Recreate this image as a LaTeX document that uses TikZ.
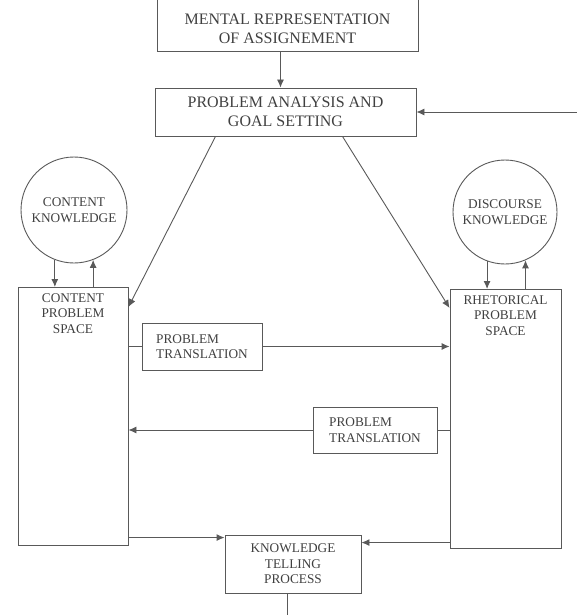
\documentclass[tikz,border=0pt]{standalone}
\usepackage{fontspec}
\setmainfont{Liberation Serif}
\usetikzlibrary{arrows.meta}

\begin{document}
\begin{tikzpicture}[x=1pt,y=-1pt, line width=0.9pt, black!65,
  >={Latex[length=8pt,width=7pt]},
  box/.style={draw=black!65, inner sep=0pt, align=center, text=black!75},
  big/.style={font=\fontsize{16}{18.5}\selectfont},
  small/.style={font=\fontsize{13.3}{15.5}\selectfont},
  lbl/.style={inner sep=0pt, align=center, text=black!75}]
\useasboundingbox (0,0) rectangle (577,615);
\clip (0,0) rectangle (577,615);

\node[box, minimum width=261, minimum height=80, anchor=south] (mental) at (287.5,52) {};
\node[lbl, big] (mentaltext) at (287.5,29) {MENTAL REPRESENTATION\\OF ASSIGNEMENT};
\node[box, big, minimum width=261, minimum height=48] (pags) at (285.5,112) {PROBLEM ANALYSIS AND\\GOAL SETTING};

\node[box, small, circle, minimum size=106] (ck) at (74,210) {CONTENT\\KNOWLEDGE};
\node[box, small, circle, minimum size=104] (dk) at (505,212) {DISCOURSE\\KNOWLEDGE};

\node[box, minimum width=110, minimum height=258, anchor=north] (cps) at (73,287) {};
\node[lbl, small, anchor=north] (cpstext) at (73,293) {CONTENT\\PROBLEM\\SPACE};
\node[box, minimum width=111, minimum height=259, anchor=north] (rps) at (505.5,289) {};
\node[lbl, small, anchor=north] (rpstext) at (505.5,295) {RHETORICAL\\PROBLEM\\SPACE};

\node[box, small, align=left, minimum width=120, minimum height=47] (pt1) at (202,346.5) {PROBLEM\\TRANSLATION};
\node[box, small, align=left, minimum width=124, minimum height=46] (pt2) at (375,430) {PROBLEM\\TRANSLATION};
\node[box, small, minimum width=136, minimum height=58] (kt) at (293,564) {KNOWLEDGE\\TELLING\\PROCESS};

\draw[->] ([xshift=-7pt]mental.south) -- ([xshift=-7pt]mental.south |- pags.north);
\coordinate (back) at (600,112);
\draw[->] (back) -- (pags.east);
\draw[->] ([xshift=-70pt]pags.south) -- ([yshift=-20pt]cps.north east);
\draw[->] ([xshift=57pt]pags.south) -- ([yshift=-19pt]rps.north west);

\draw[->] (ck.-111) -- (ck.-111 |- cps.north);
\draw[->] (ck.-69 |- cps.north) -- (ck.-69);
\draw[->] (dk.-110) -- (dk.-110 |- rps.north);
\draw[->] (dk.-67 |- rps.north) -- (dk.-67);

\draw (pt1.west -| cps.east) -- (pt1.west);
\draw[->] (pt1.east) -- (pt1.east -| rps.west);
\draw (pt2.east -| rps.west) -- (pt2.east);
\draw[->] (pt2.west) -- (pt2.west -| cps.east);

\coordinate (ktin) at ([yshift=-3pt]kt.north west);
\coordinate (ktin2) at ([yshift=-8pt]kt.north east);
\coordinate (ktout) at (287,630);
\draw[->] (ktin -| cps.east) -- (ktin);
\draw[->] (ktin2 -| rps.west) -- (ktin2);
\draw ([xshift=-6pt]kt.south) -- (ktout);
\end{tikzpicture}
\end{document}
